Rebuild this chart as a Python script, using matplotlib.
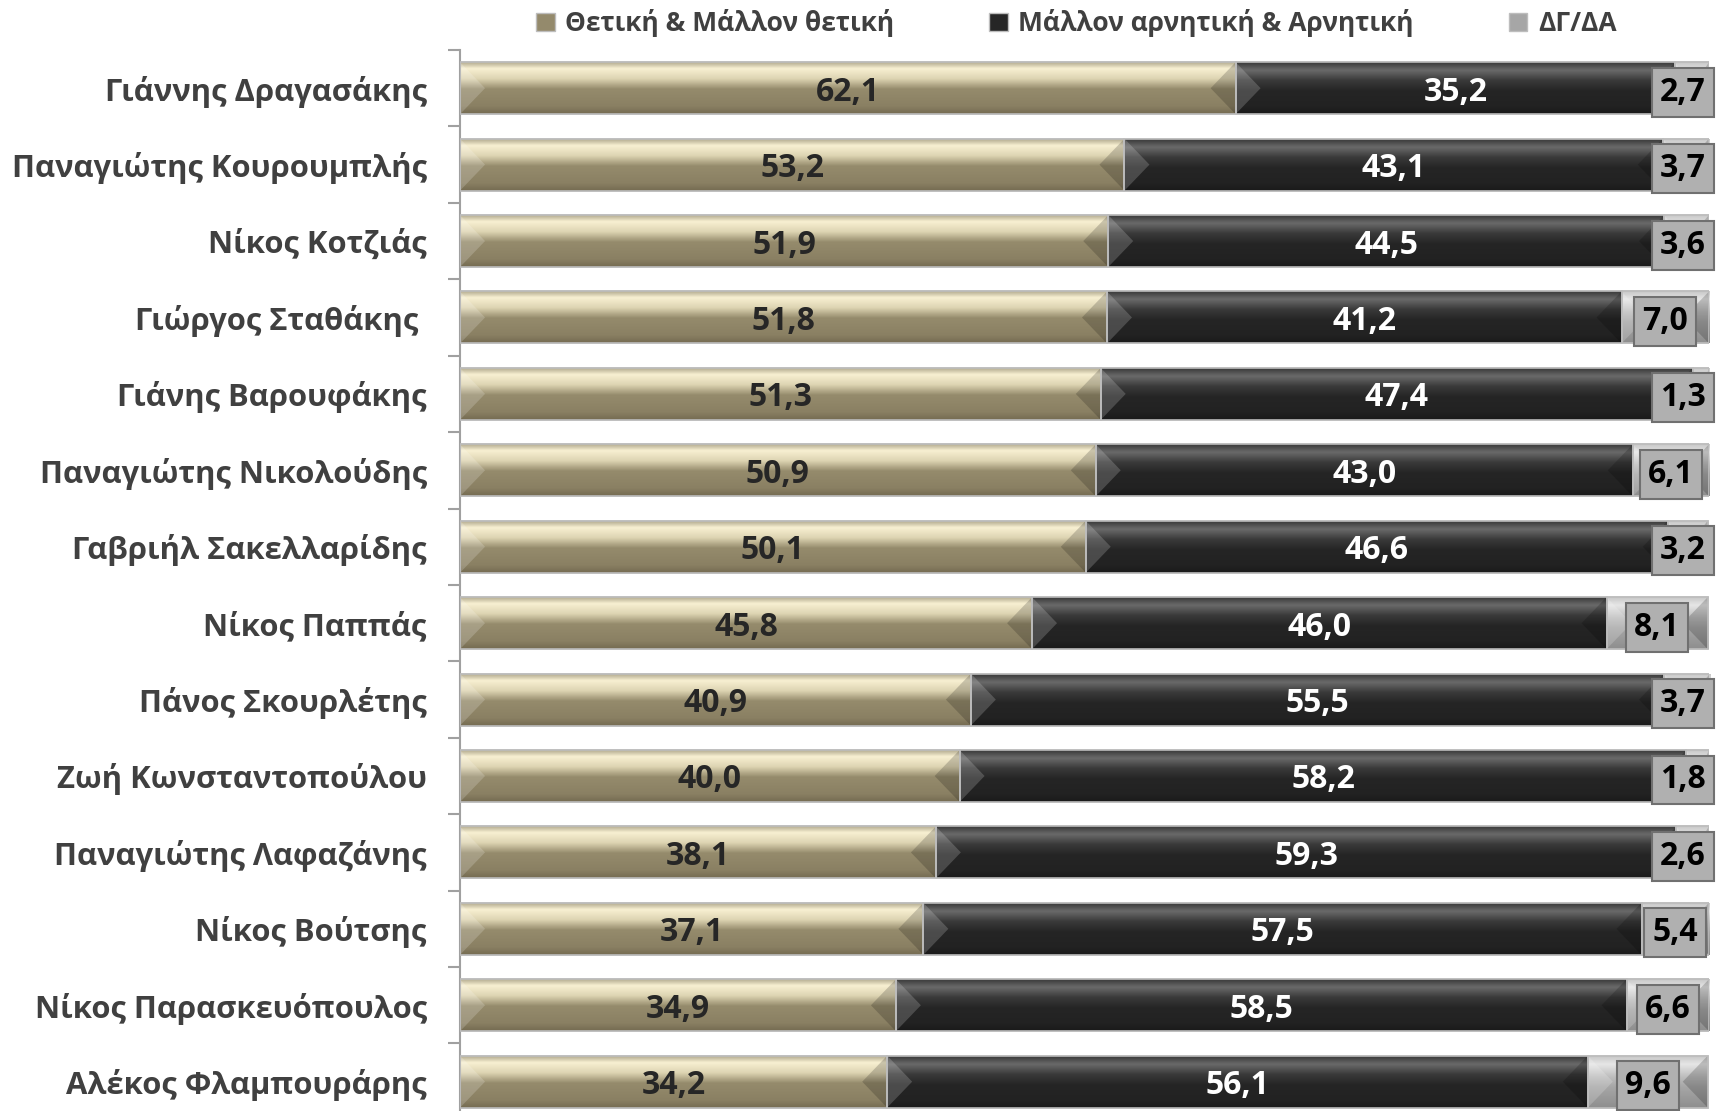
import numpy as np
import matplotlib
matplotlib.use('Agg')
import matplotlib.pyplot as plt
from matplotlib.patches import Patch, Polygon
from matplotlib.colors import to_rgb

plt.rcParams['font.family'] = ['Open Sans', 'DejaVu Sans']
plt.rcParams['font.weight'] = 'bold'

names = ['Γιάννης Δραγασάκης', 'Παναγιώτης Κουρουμπλής', 'Νίκος Κοτζιάς',
         'Γιώργος Σταθάκης ', 'Γιάνης Βαρουφάκης', 'Παναγιώτης Νικολούδης',
         'Γαβριήλ Σακελλαρίδης', 'Νίκος Παππάς', 'Πάνος Σκουρλέτης',
         'Ζωή Κωνσταντοπούλου', 'Παναγιώτης Λαφαζάνης', 'Νίκος Βούτσης',
         'Νίκος Παρασκευόπουλος', 'Αλέκος Φλαμπουράρης']
positive = [62.1, 53.2, 51.9, 51.8, 51.3, 50.9, 50.1, 45.8, 40.9, 40.0, 38.1, 37.1, 34.9, 34.2]
negative = [35.2, 43.1, 44.5, 41.2, 47.4, 43.0, 46.6, 46.0, 55.5, 58.2, 59.3, 57.5, 58.5, 56.1]
dkna = [2.7, 3.7, 3.6, 7.0, 1.3, 6.1, 3.2, 8.1, 3.7, 1.8, 2.6, 5.4, 6.6, 9.6]
series_names = ['Θετική & Μάλλον θετική', 'Μάλλον αρνητική & Αρνητική', 'ΔΓ/ΔΑ']

# gradient stops (position from top, colour) for the bevel look
grad_tan = [(0.0, '#b5ad92'), (0.12, '#f8f0d2'), (0.32, '#ddd4b2'), (0.52, '#958b6c'),
            (0.85, '#8a8063'), (1.0, '#756c52')]
grad_dark = [(0.0, '#3a3a3a'), (0.15, '#6a6a6a'), (0.35, '#3a3a3a'), (0.55, '#252525'),
             (0.85, '#222222'), (1.0, '#1a1a1a')]
grad_grey = [(0.0, '#c8c8c8'), (0.15, '#e6e6e6'), (0.4, '#bdbdbd'), (0.6, '#a6a6a6'),
             (1.0, '#8e8e8e')]
base_colors = ['#948a6c', '#262626', '#a6a6a6']
label_colors = ['#262626', 'white', 'black']


def make_grad(stops, n=64):
    t = np.linspace(0, 1, n)
    pos = [s[0] for s in stops]
    cols = np.array([to_rgb(s[1]) for s in stops])
    img = np.stack([np.interp(t, pos, cols[:, k]) for k in range(3)], axis=1)
    return img.reshape(n, 1, 3)


fig = plt.figure(figsize=(17.25, 11.11), dpi=100)
ax = fig.add_axes([0.2667, -0.008, 0.7240, 0.963])

n = len(names)
y = np.arange(n)[::-1]
h = 0.68
left = np.zeros(n)
grads = [grad_tan, grad_dark, grad_grey]
bev = 2.0

for k, vals in enumerate([positive, negative, dkna]):
    vals = np.array(vals)
    bars = ax.barh(y, vals, left=left, height=h, color=base_colors[k],
                   edgecolor='#c8c8c8', linewidth=1.2, zorder=2)
    img = make_grad(grads[k])
    for b, yy, x0, v in zip(bars, y, left, vals):
        im = ax.imshow(img, extent=(x0, x0 + v, yy - h / 2, yy + h / 2),
                       aspect='auto', origin='upper', zorder=2.5, interpolation='bilinear')
        im.set_clip_path(b)
        bw = min(bev, v / 2)
        ax.add_patch(Polygon([(x0, yy + h / 2), (x0 + bw, yy), (x0, yy - h / 2)],
                             closed=True, facecolor='white', alpha=0.18, lw=0, zorder=2.6))
        ax.add_patch(Polygon([(x0 + v, yy + h / 2), (x0 + v - bw, yy), (x0 + v, yy - h / 2)],
                             closed=True, facecolor='black', alpha=0.18, lw=0, zorder=2.6))
        ax.add_patch(Polygon([(x0, yy + h / 2), (x0 + v, yy + h / 2), (x0 + v, yy - h / 2),
                              (x0, yy - h / 2)], closed=True, fill=False,
                             edgecolor='#bdbdbd', lw=1.2, zorder=2.7))
        cx = x0 + v / 2
        txt = f'{v:.1f}'.replace('.', ',')
        if k == 2:
            cx = min(cx, 97.9)
            ax.text(cx, yy, txt, ha='center', va='center_baseline',
                    fontsize=23, fontweight='bold', color=label_colors[k], zorder=4,
                    bbox=dict(boxstyle='square,pad=0.25', facecolor='#b0b0b0',
                              edgecolor='#707070', linewidth=1.5))
        else:
            ax.text(cx, yy, txt, ha='center', va='center_baseline',
                    fontsize=23, fontweight='bold', color=label_colors[k], zorder=4)
    left = left + vals

ax.set_xlim(0, 100)
ax.set_ylim(-0.5, n - 0.5)
ax.set_yticks(y)
ax.set_yticklabels(names, fontsize=22.3, fontweight='bold', color='#404040')
ax.set_yticks(np.arange(n + 1) - 0.5, minor=True)
ax.tick_params(axis='y', which='major', length=0, pad=24)
ax.tick_params(axis='y', which='minor', length=9, color='#a0a0a0', width=1.5)
ax.set_xticks([])
for s in ['top', 'right', 'bottom']:
    ax.spines[s].set_visible(False)
ax.spines['left'].set_color('#a0a0a0')
ax.spines['left'].set_linewidth(1.5)

handles = [Patch(facecolor=base_colors[i], edgecolor='#bdbdbd') for i in range(3)]
fig.legend(handles, series_names, loc='center', bbox_to_anchor=(0.624, 0.979), ncol=3,
           frameon=False, handlelength=0.7, handleheight=0.7,
           handletextpad=0.4, columnspacing=3.6, labelcolor='#404040',
           prop={'weight': 'bold', 'size': 19})

fig.savefig('out.png', dpi=100)
